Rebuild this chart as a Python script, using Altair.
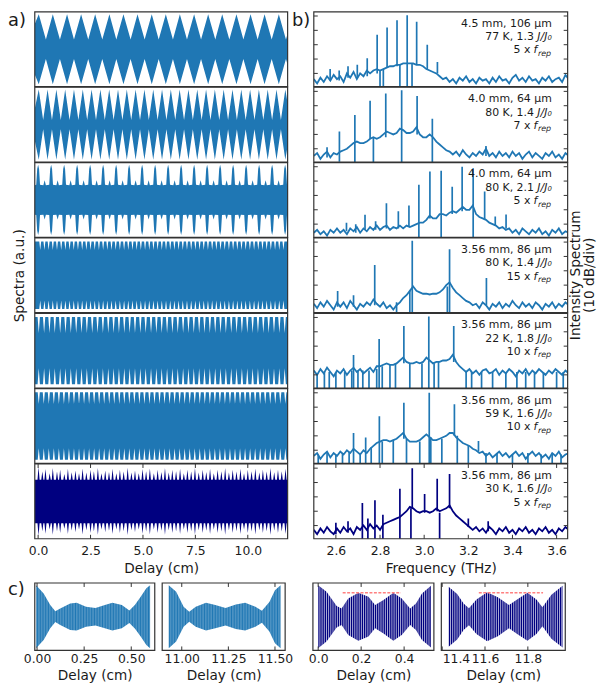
import altair as alt
import pandas as pd

FONT = "DejaVu Sans"
LIGHT = "#1f77b4"
DARK = "#000080"
FRAME = "#333333"
INK = "#1a1a1a"
RED = "#ff8080"

# ======================= a) interferogram envelopes =======================
a_domain = [-0.16, 11.9]
a_ticks = [0.0, 2.5, 5.0, 7.5, 10.0]
a_amp_domain = [-1.065, 1.065]

a1_peak_x = [0.03, 0.70, 1.38, 2.05, 2.72, 3.40, 4.07, 4.74, 5.42, 6.09, 6.76, 7.44,
             8.11, 8.78, 9.46, 10.13, 10.80, 11.48]
a1_notch_x = [0.37, 1.04, 1.71, 2.39, 3.06, 3.73, 4.41, 5.08, 5.75, 6.43, 7.10, 7.77,
              8.45, 9.12, 9.79, 10.47, 11.14, 11.82]
a1_levels = (1.0, 0.28)
a1_ends = [(-0.16, 0.72), (11.9, 0.45)]

a2_peak_x = [0.03, 0.45, 0.87, 1.29, 1.71, 2.13, 2.55, 2.97, 3.39, 3.81, 4.23, 4.65,
             5.07, 5.49, 5.91, 6.33, 6.75, 7.17, 7.59, 8.01, 8.43, 8.85, 9.27, 9.69,
             10.11, 10.53, 10.95, 11.37, 11.79]
a2_notch_x = [0.24, 0.66, 1.08, 1.50, 1.92, 2.34, 2.76, 3.18, 3.60, 4.02, 4.44, 4.86,
              5.28, 5.70, 6.12, 6.54, 6.96, 7.38, 7.80, 8.22, 8.64, 9.06, 9.48, 9.90,
              10.32, 10.74, 11.16, 11.58]
a2_levels = (1.0, 0.13)
a2_ends = [(-0.16, 0.45), (11.9, 0.6)]

a3_spike_x = [0.00, 0.62, 1.24, 1.86, 2.48, 3.10, 3.72, 4.34, 4.96, 5.58, 6.20, 6.82,
              7.44, 8.06, 8.68, 9.30, 9.92, 10.54, 11.16, 11.78]
a3_bump_x = [0.31, 0.93, 1.55, 2.17, 2.79, 3.41, 4.03, 4.65, 5.27, 5.89, 6.51, 7.13,
             7.75, 8.37, 8.99, 9.61, 10.23, 10.85, 11.47]
a3_spike_shape = [(-0.09, 0.43), (-0.045, 0.88), (0.0, 1.0), (0.045, 0.88), (0.09, 0.43)]
a3_bump_shape = [(-0.06, 0.42), (0.0, 0.56), (0.06, 0.42)]
a3_ends = [(-0.16, 0.42), (11.9, 0.42)]

a4_notch_x = [0.10, 0.30, 0.50, 0.70, 0.90, 1.10, 1.30, 1.50, 1.70, 1.90, 2.10, 2.30,
              2.50, 2.70, 2.90, 3.10, 3.30, 3.50, 3.70, 3.90, 4.10, 4.30, 4.50, 4.70,
              4.90, 5.10, 5.30, 5.50, 5.70, 5.90, 6.10, 6.30, 6.50, 6.70, 6.90, 7.10,
              7.30, 7.50, 7.70, 7.90, 8.10, 8.30, 8.50, 8.70, 8.90, 9.10, 9.30, 9.50,
              9.70, 9.90, 10.10, 10.30, 10.50, 10.70, 10.90, 11.10, 11.30, 11.50, 11.70]
a4_notch_shape = [(-0.045, 0.96), (0.0, 0.72), (0.045, 0.96)]
a4_ends = [(-0.16, 0.96), (11.9, 0.96)]

a5_notch_x = [0.03, 0.285, 0.54, 0.795, 1.05, 1.305, 1.56, 1.815, 2.07, 2.325, 2.58,
              2.835, 3.09, 3.345, 3.60, 3.855, 4.11, 4.365, 4.62, 4.875, 5.13, 5.385,
              5.64, 5.895, 6.15, 6.405, 6.66, 6.915, 7.17, 7.425, 7.68, 7.935, 8.19,
              8.445, 8.70, 8.955, 9.21, 9.465, 9.72, 9.975, 10.23, 10.485, 10.74,
              10.995, 11.25, 11.505, 11.76]
a5_notch_shape = [(-0.055, 0.96), (0.0, 0.50), (0.055, 0.96)]
a5_ends = [(-0.16, 0.96), (11.9, 0.96)]

a6_notch_x = [0.03, 0.27, 0.51, 0.75, 0.99, 1.23, 1.47, 1.71, 1.95, 2.19, 2.43, 2.67,
              2.91, 3.15, 3.39, 3.63, 3.87, 4.11, 4.35, 4.59, 4.83, 5.07, 5.31, 5.55,
              5.79, 6.03, 6.27, 6.51, 6.75, 6.99, 7.23, 7.47, 7.71, 7.95, 8.19, 8.43,
              8.67, 8.91, 9.15, 9.39, 9.63, 9.87, 10.11, 10.35, 10.59, 10.83, 11.07,
              11.31, 11.55, 11.79]
a6_notch_shape = [(-0.05, 0.96), (0.0, 0.63), (0.05, 0.96)]
a6_ends = [(-0.16, 0.96), (11.9, 0.96)]

a7_spike_x = [0.02, 0.20, 0.35, 0.55, 0.70, 0.90, 1.05, 1.25, 1.42, 1.60, 1.78, 1.95,
              2.12, 2.30, 2.50, 2.66, 2.85, 3.02, 3.20, 3.38, 3.55, 3.73, 3.90, 4.08,
              4.27, 4.45, 4.62, 4.80, 4.98, 5.15, 5.33, 5.52, 5.70, 5.88, 6.05, 6.23,
              6.40, 6.58, 6.77, 6.95, 7.12, 7.30, 7.48, 7.66, 7.85, 8.02, 8.20, 8.38,
              8.56, 8.74, 8.92, 9.10, 9.28, 9.46, 9.65, 9.82, 10.00, 10.18, 10.36,
              10.55, 10.72, 10.90, 11.08, 11.26, 11.44, 11.62, 11.80]
a7_spike_amp = [0.98, 0.85, 0.92, 0.80, 0.95, 0.85, 0.90, 0.78, 0.93, 0.83, 0.88, 0.80,
                0.94, 0.82, 0.90, 0.86, 0.95, 0.80, 0.88, 0.84, 0.93, 0.80, 0.90, 0.85,
                0.96, 0.82, 0.88, 0.80, 0.92, 0.86, 0.94, 0.80, 0.90, 0.84, 0.95, 0.82,
                0.90, 0.86, 0.93, 0.80, 0.90, 0.85, 0.95, 0.82, 0.90, 0.84, 0.93, 0.80,
                0.90, 0.86, 0.95, 0.82, 0.90, 0.85, 0.93, 0.80, 0.90, 0.86, 0.94, 0.82,
                0.90, 0.85, 0.95, 0.83, 0.90, 0.86, 0.93]
a7_base = 0.62
a7_ends = [(-0.16, 0.62), (11.9, 0.62)]

# ======================= b) spectra (dB) =======================
b_domain = [2.5, 3.65]
b_ticks = [2.6, 2.8, 3.0, 3.2, 3.4, 3.6]
b_db_domain = [-9.2, 42.9]
b_db_ticks = [0, 10, 20, 30, 40]

grid_f = [2.500, 2.515, 2.530, 2.545, 2.560, 2.575, 2.590, 2.605, 2.620, 2.635, 2.650,
          2.665, 2.680, 2.695, 2.710, 2.725, 2.740, 2.755, 2.770, 2.785, 2.800, 2.815,
          2.830, 2.845, 2.860, 2.875, 2.890, 2.905, 2.920, 2.935, 2.950, 2.965, 2.980,
          2.995, 3.010, 3.025, 3.040, 3.055, 3.070, 3.085, 3.100, 3.115, 3.130, 3.145,
          3.160, 3.175, 3.190, 3.205, 3.220, 3.235, 3.250, 3.265, 3.280, 3.295, 3.310,
          3.325, 3.340, 3.355, 3.370, 3.385, 3.400, 3.415, 3.430, 3.445, 3.460, 3.475,
          3.490, 3.505, 3.520, 3.535, 3.550, 3.565, 3.580, 3.595, 3.610, 3.625, 3.640,
          3.655]

b1_db = [-4, -7, -3, -6, -2, -5, -1, -4, -2, -6, 0, -3, 1, -4, 0, -2, 2, 0, 2, 3,
         2, 3, 4, 5, 5, 6, 6, 7, 7, 7, 7, 6, 6, 5, 3, 2, 1, 0, -2, -4,
         -3, -6, -4, -7, -3, -5, -2, -6, -4, -7, -3, -5, -4, -7, -3, -6, -2, -5, -4, -7,
         -3, -1, -5, -3, -6, -2, -5, -4, -7, -3, -5, -2, -6, -4, -3, -6, -1, -4]
b1_spikes = [(2.574, 3, -5), (2.615, 2, -5), (2.655, 5, -3), (2.697, 6, -3),
             (2.742, 10.5, -2), (2.787, 27, 0), (2.800, 2, -12), (2.815, 3, -12),
             (2.832, 32, 4), (2.877, 37, 5), (2.890, 6, -12), (2.923, 40.5, -12),
             (2.945, 7, -12), (2.966, 36, 6), (3.014, 20, 3), (3.060, 8, 0)]

b2_db = [-5, -3, -7, -4, -2, -6, -3, -4, -2, -1, 0, 2, 4, 5, 4, 4, 5, 7, 8, 7,
         8, 10, 12, 11, 10, 11, 14, 13, 11, 11, 12, 15, 10, 8, 8, 10, 8, 5, 3, 1,
         -1, -2, -4, -2, -5, -1, -4, -6, -3, -5, -2, -4, 0, -5, -3, -6, -2, -5, -3, -6,
         -2, -5, -3, -7, -4, -2, -6, -3, -5, -7, -3, -5, -2, -6, -4, -7, -3, -5]
b2_spikes = [(2.560, 1, -6), (2.616, 12, -9), (2.686, 23.5, -12), (2.755, 33.5, 7),
             (2.770, 8, -12), (2.826, 38.5, 8), (2.898, 40.7, -12), (2.968, 36.8, 10),
             (3.037, 21, -12), (3.280, 2, -5)]

b3_db = [-6, -4, -7, -5, -8, -4, -6, -3, -6, -4, -7, -3, -5, -2, -6, -3, -5, -2, -4, -1,
         -4, -2, -1, -4, -2, -3, -1, -3, -1, -2, -1, 0, 1, 1, 3, 6, 4, 4, 7, 7,
         6, 8, 9, 8, 10, 12, 10, 10, 13, 7, 5, 4, 3, 1, 0, -1, -3, -2, -4, -3,
         -6, -4, -7, -3, -5, -7, -4, -6, -3, -7, -5, -8, -4, -6, -3, -7, -5, -6]
b3_spikes = [(2.648, 1, -5), (2.690, 0, -6), (2.732, 6.5, -4), (2.780, 2, -4),
             (2.829, 14.6, -3), (2.883, 9, -3), (2.931, 13, -2), (2.976, 27.5, -12),
             (3.026, 36.6, 4), (3.077, 37.2, -12), (3.127, 26, 7), (3.172, 40, 9),
             (3.222, 39, -12), (3.274, 22.7, 3), (3.322, 5.3, -1), (3.371, 6.7, -3)]

b4_db = [-3, -6, -2, -5, -1, -4, -7, -2, -5, -2, -6, -1, -4, -7, -3, -5, -2, -4, 0, -3,
         -5, -2, -6, -4, -7, -4, -2, 1, 3, 6, 9, 6, 5, 4, 4, 3.5, 4, 4, 5, 7,
         10, 12, 8, 5, 3, 1, -1, -2, -4, -3, -6, -2, -4, -7, -3, -5, -2, -6, -3, -5,
         -1, -4, -6, -2, -5, -3, -6, -2, -4, -7, -3, -5, -2, -6, -3, -5, -2, -4]
b4_spikes = [(2.608, 6, -5), (2.680, 3, -5), (2.776, 24, -4), (2.875, -2, -12),
             (2.935, 6, -12), (2.946, 41, -12), (3.105, 9, -12), (3.115, 35, -12),
             (3.282, 15, -4)]

b5_db = [3, 0, 4, 1, 5, 2, -1, 3, 1, 4, 0, 3, 5, 2, 4, 1, 3, 5, 2, 6,
         6, 7, 8, 7, 7, 8, 10, 12, 9, 8, 8, 9, 8, 9, 12, 10, 8, 9, 9, 10,
         10, 11, 14, 9, 6, 4, 2, 4, 1, 3, 0, 3, 4, 1, 2, 4, 0, 3, 1, 4,
         2, -1, 3, 1, 4, 0, 3, 1, 4, 2, 0, 3, 1, 4, 2, 0, 3, 1]
b5_spikes = [(2.680, 13.8, -12), (2.796, 25, -12), (2.908, 34, 8), (3.021, 40.6, -12),
             (3.134, 34, 9),
             (2.515, 1, -12), (2.548, 2, -12), (2.570, 2, -12), (2.600, 2, -12),
             (2.640, 2, -12), (2.672, 3, -12), (2.700, 3, -12), (2.722, 3, -12),
             (2.750, 3, -12), (2.785, 4, -12), (2.810, 6, -12), (2.845, 7, -12),
             (2.870, 8, -12), (2.935, 8, -12), (2.990, 8, -12), (3.045, 8, -12),
             (3.065, 9, -12), (3.190, 2, -12), (3.215, 2, -12), (3.260, 2, -12),
             (3.310, 2, -12), (3.370, 2, -12), (3.420, 2, -12), (3.460, 2, -12),
             (3.500, 2, -12), (3.540, 2, -12), (3.600, 2, -12), (3.630, 2, -12)]

b6_db = [-4, -2, -6, -3, -1, -5, -2, -4, -1, -3, 0, -2, 1, -1, -3, 0, -2, 1, 3, 5,
         6, 7, 7, 6, 7, 8, 10, 12, 8, 6, 6, 6, 7, 9, 11, 9, 7, 7, 8, 9,
         10, 12, 12, 9, 7, 5, 4, 3, 1, 0, -2, -1, -4, -2, -5, -3, -1, -4, -2, -5,
         -3, -1, -4, -2, -6, -3, -1, -4, -2, -5, -3, -6, -2, -4, -1, -5, -3, -2]
b6_spikes = [(2.680, 12, -12), (2.735, 8.8, -12), (2.797, 23.7, -12), (2.908, 33, 8),
             (3.023, 40, -12), (3.137, 32, 10), (3.246, 6.5, -1),
             (2.520, -3, -12), (2.560, -2, -12), (2.600, -3, -12), (2.630, -2, -12),
             (2.660, -1, -12), (2.710, -2, -12), (2.760, 2, -12), (2.810, 6, -12),
             (2.860, 7, -12), (2.920, 8, -12), (2.980, 6, -12), (3.030, 9, -12),
             (3.080, 8, -12), (3.150, 10, -12), (3.200, 3, -12), (3.280, -2, -12),
             (3.330, -2, -12), (3.400, -3, -12), (3.470, -2, -12), (3.530, -3, -12),
             (3.580, -2, -12), (3.620, -3, -12)]

b7_db = [-3, -6, -2, -5, -1, -4, -6, -2, -5, -1, -4, -2, -6, -1, -3, 0, -3, 1, -2, 0,
         -3, 1, 2, 3, 4, 5, 6, 8, 10, 13, 12, 10, 9, 10, 10, 9, 10, 12, 10, 11,
         12, 14, 10, 7, 5, 3, 1, -1, -3, -1, -4, -2, -5, -1, -3, -6, -2, -4, -1, -5,
         -3, -6, -2, -4, -1, -5, -3, -6, -2, -4, -1, -5, -3, -6, -2, -4, -1, -3]
b7_spikes = [(2.600, 2, -6), (2.655, 3, -5), (2.720, 15.8, -12), (2.745, 5, -12),
             (2.777, 17.6, -12), (2.813, 7.6, -12), (2.890, 25.7, -12), (2.940, 12, -12),
             (2.946, 40, 12), (3.002, 22, 9), (3.059, 32.6, 10), (3.070, 9, -12),
             (3.115, 36, 12), (3.200, 5, -1), (3.290, 3, -4)]

b_line1 = ["4.5 mm, 106 \u03bcm", "4.0 mm, 64 \u03bcm", "4.0 mm, 64 \u03bcm",
           "3.56 mm, 86 \u03bcm", "3.56 mm, 86 \u03bcm", "3.56 mm, 86 \u03bcm",
           "3.56 mm, 86 \u03bcm"]
b_line2 = ["77 K, 1.3", "80 K, 1.4", "80 K, 2.1", "80 K, 1.4", "22 K, 1.8",
           "59 K, 1.6", "30 K, 1.6"]
b_mult = ["5 x", "7 x", "5 x", "15 x", "10 x", "10 x", "5 x"]
b_side_title = ["Intensity Spectrum", "(10 dB/div)"]

# ======================= c) zoomed interferograms =======================
c1_x = [-0.005, 0.035, 0.07, 0.097, 0.123, 0.176, 0.21, 0.26, 0.31, 0.36, 0.40, 0.45,
        0.49, 0.52, 0.55, 0.58, 0.60]
c1_amp = [1.0, 0.74, 0.37, 0.17, 0.26, 0.42, 0.44, 0.32, 0.28, 0.37, 0.44, 0.37,
          0.20, 0.38, 0.63, 0.90, 1.0]
c2_x = [10.93, 10.97, 11.01, 11.04, 11.075, 11.13, 11.18, 11.235, 11.29, 11.34,
        11.395, 11.43, 11.47, 11.50, 11.53]
c2_amp = [1.0, 0.79, 0.32, 0.16, 0.32, 0.44, 0.37, 0.28, 0.39, 0.44, 0.32, 0.19,
          0.47, 0.84, 1.0]
c3_x = [0.0, 0.039, 0.086, 0.109, 0.14, 0.187, 0.234, 0.265, 0.304, 0.35, 0.389, 0.428,
        0.455, 0.483, 0.525]
c3_amp = [1.0, 0.79, 0.34, 0.26, 0.58, 0.76, 0.63, 0.37, 0.53, 0.76, 0.58, 0.26,
          0.42, 0.74, 0.98]
c4_x = [11.43, 11.47, 11.50, 11.525, 11.56, 11.61, 11.66, 11.712, 11.75, 11.798,
        11.84, 11.868, 11.91, 11.962]
c4_amp = [0.95, 0.72, 0.42, 0.27, 0.55, 0.78, 0.62, 0.37, 0.55, 0.76, 0.55, 0.30,
          0.70, 0.98]
c3_red = (0.114, 0.385, 0.76)
c4_red = (11.571, 11.871, 0.76)
c1_ticks, c2_ticks = [0.0, 0.25, 0.5], [11.0, 11.25, 11.5]
c3_ticks, c4_ticks = [0.0, 0.2, 0.4], [11.4, 11.6, 11.8]

# ======================= layout sizes =======================
A_W, A_H = 255, 75.4
B_W, B_H = 256, 75.4
C_H = 68
TAG_SIZE = 18
TAG_X = -27
ONE = pd.DataFrame({"k": [0]})


def env_frame(points):
    pts = sorted(points)
    return pd.DataFrame({"x": [p[0] for p in pts],
                         "hi": [p[1] for p in pts],
                         "lo": [-p[1] for p in pts]})


def zigzag(peaks, notches, levels, ends):
    hi, lo = levels
    return env_frame([(x, hi) for x in peaks] + [(x, lo) for x in notches] + list(ends))


def shaped(centers, shape):
    pts = []
    for c in centers:
        pts += [(c + dx, a) for dx, a in shape]
    return pts


def spiky(centers, heights, base, half, ends):
    pts = list(ends)
    for c, h in zip(centers, heights):
        pts += [(c - half, base), (c, h), (c + half, base)]
    return env_frame(pts)


def frame_layer(w, h):
    return alt.Chart(ONE).mark_rect(filled=False, color=FRAME, strokeWidth=1.2).encode(
        x=alt.value(0), x2=alt.value(w), y=alt.value(0), y2=alt.value(h))


def xtick_layers(values, scale, h, ax):
    df = pd.DataFrame({"t": values})
    top = alt.Chart(df).mark_rule(color=FRAME, strokeWidth=1).encode(
        x=alt.X("t:Q", scale=scale, axis=ax), y=alt.value(0), y2=alt.value(4))
    bot = alt.Chart(df).mark_rule(color=FRAME, strokeWidth=1).encode(
        x=alt.X("t:Q", scale=scale, axis=ax), y=alt.value(h - 4), y2=alt.value(h))
    return [top, bot]


def ytick_layers(values, scale, w, ax):
    df = pd.DataFrame({"t": values})
    left = alt.Chart(df).mark_rule(color=FRAME, strokeWidth=1).encode(
        y=alt.Y("t:Q", scale=scale, axis=ax), x=alt.value(0), x2=alt.value(4))
    right = alt.Chart(df).mark_rule(color=FRAME, strokeWidth=1).encode(
        y=alt.Y("t:Q", scale=scale, axis=ax), x=alt.value(w - 4), x2=alt.value(w))
    return [left, right]


def txt(s, x, y, size=11, align="right", italic=False, angle=0, baseline="alphabetic"):
    kw = dict(text=s, fontSize=size, font=FONT, align=align, baseline=baseline, color=INK)
    if italic:
        kw["fontStyle"] = "italic"
    if angle:
        kw["angle"] = angle
    return alt.Chart(ONE).mark_text(**kw).encode(x=alt.value(x), y=alt.value(y))


def tag(s, x, y):
    return alt.Chart(ONE).mark_text(text=s, fontSize=TAG_SIZE, font=FONT, align="left",
                                    baseline="alphabetic", color=INK).encode(
        x=alt.value(x), y=alt.value(y))


def a_panel(df, color, bottom=False, ytitle=False, label=False):
    xs = alt.Scale(domain=a_domain, nice=False, zero=False)
    ys = alt.Scale(domain=a_amp_domain, nice=False, zero=False)
    if bottom:
        xax = alt.Axis(values=a_ticks, format=".1f", title="Delay (cm)", ticks=False,
                       domain=False, labelPadding=6, titlePadding=5)
    else:
        xax = None
    if ytitle:
        yax = alt.Axis(title="Spectra (a.u.)", labels=False, ticks=False, domain=False,
                       titlePadding=8)
    else:
        yax = None
    area = alt.Chart(df).mark_area(color=color, clip=True).encode(
        x=alt.X("x:Q", scale=xs, axis=xax),
        y=alt.Y("hi:Q", scale=ys, axis=yax), y2="lo:Q")
    layers = [area]
    if bottom:
        layers += xtick_layers(a_ticks, xs, A_H, xax)
    layers.append(frame_layer(A_W, A_H))
    if label:
        layers.append(tag("a)", TAG_X, 14))
    return alt.layer(*layers).properties(width=A_W, height=A_H)


def b_panel(i, db, spikes, color, bottom=False, side_title=False, label=False):
    xs = alt.Scale(domain=b_domain, nice=False, zero=False)
    ys = alt.Scale(domain=b_db_domain, nice=False, zero=False)
    if bottom:
        xax = alt.Axis(values=b_ticks, format=".1f", title="Frequency (THz)", ticks=False,
                       domain=False, labelPadding=6, titlePadding=5)
    else:
        xax = None
    line = alt.Chart(pd.DataFrame({"f": grid_f, "db": db})).mark_line(
        color=color, strokeWidth=1.8, clip=True).encode(
        x=alt.X("f:Q", scale=xs, axis=xax), y=alt.Y("db:Q", scale=ys, axis=None))
    sp = alt.Chart(pd.DataFrame(spikes, columns=["f", "top", "base"])).mark_rule(
        color=color, strokeWidth=1.7, clip=True).encode(
        x=alt.X("f:Q", scale=xs, axis=xax), y=alt.Y("top:Q", scale=ys, axis=None),
        y2="base:Q")
    layers = [line, sp] + ytick_layers(b_db_ticks, ys, B_W, None)
    if bottom:
        layers += xtick_layers(b_ticks, xs, B_H, xax)
    layers += [
        txt(b_line1[i], 240, 15),
        txt(b_line2[i], 222, 28.7),
        txt("J/J\u2080", 240, 28.7, italic=True),
        txt(b_mult[i], 218.5, 42),
        txt("f", 221.5, 42, align="left", italic=True),
        txt("rep", 226, 44.5, size=8, align="left", italic=True),
    ]
    if side_title:
        layers += [
            txt(b_side_title[0], B_W + 1.5, B_H / 2, size=13.75, align="center",
                angle=270, baseline="top"),
            txt(b_side_title[1], B_W + 15.5, B_H / 2, size=13.75, align="center",
                angle=270, baseline="top"),
        ]
    layers.append(frame_layer(B_W, B_H))
    if label:
        layers.append(tag("b)", -22, 14))
    return alt.layer(*layers).properties(width=B_W, height=B_H)


def c_panel(xv, amp, domain, ticks, fmt, color, w, dash, dash_op, red=None, label=False):
    xs = alt.Scale(domain=domain, nice=False, zero=False)
    ys = alt.Scale(domain=[-1.07, 1.07], nice=False, zero=False)
    xax = alt.Axis(values=ticks, format=fmt, title="Delay (cm)", ticks=False, domain=False,
                   labelPadding=2, titlePadding=4)
    df = pd.DataFrame({"x": xv, "hi": amp, "lo": [-a for a in amp]})
    area = alt.Chart(df).mark_area(color=color, clip=True).encode(
        x=alt.X("x:Q", scale=xs, axis=xax),
        y=alt.Y("hi:Q", scale=ys, axis=None), y2="lo:Q")
    stripes = alt.Chart(ONE).mark_rule(color="white", strokeWidth=C_H, strokeDash=dash,
                                       opacity=dash_op, clip=True).encode(
        x=alt.value(0), x2=alt.value(w), y=alt.value(C_H / 2))
    layers = [area, stripes]
    if red:
        rdf = pd.DataFrame({"x0": [red[0]], "x1": [red[1]], "y": [red[2]]})
        layers.append(alt.Chart(rdf).mark_rule(color=RED, strokeWidth=1.5,
                                               strokeDash=[3, 1.5]).encode(
            x=alt.X("x0:Q", scale=xs, axis=xax), x2="x1:Q",
            y=alt.Y("y:Q", scale=ys, axis=None)))
    layers += xtick_layers(ticks, xs, C_H, xax)
    layers.append(frame_layer(w, C_H))
    if label:
        layers.append(tag("c)", TAG_X, 12))
    return alt.layer(*layers).properties(width=w, height=C_H)


def spacer(w):
    return alt.Chart(ONE).mark_point(opacity=0, size=1).encode(
        x=alt.value(w / 2), y=alt.value(C_H / 2)).properties(width=w, height=C_H)


# ---- build envelopes ----
a1 = zigzag(a1_peak_x, a1_notch_x, a1_levels, a1_ends)
a2 = zigzag(a2_peak_x, a2_notch_x, a2_levels, a2_ends)
a3 = env_frame(shaped(a3_spike_x, a3_spike_shape) + shaped(a3_bump_x, a3_bump_shape) + a3_ends)
a4 = env_frame(shaped(a4_notch_x, a4_notch_shape) + a4_ends)
a5 = env_frame(shaped(a5_notch_x, a5_notch_shape) + a5_ends)
a6 = env_frame(shaped(a6_notch_x, a6_notch_shape) + a6_ends)
a7 = spiky(a7_spike_x, a7_spike_amp, a7_base, 0.05, a7_ends)

colA = alt.vconcat(
    a_panel(a1, LIGHT, label=True),
    a_panel(a2, LIGHT),
    a_panel(a3, LIGHT),
    a_panel(a4, LIGHT, ytitle=True),
    a_panel(a5, LIGHT),
    a_panel(a6, LIGHT),
    a_panel(a7, DARK, bottom=True),
    spacing=0, bounds="flush")

colB = alt.vconcat(
    b_panel(0, b1_db, b1_spikes, LIGHT, label=True),
    b_panel(1, b2_db, b2_spikes, LIGHT),
    b_panel(2, b3_db, b3_spikes, LIGHT),
    b_panel(3, b4_db, b4_spikes, LIGHT, side_title=True),
    b_panel(4, b5_db, b5_spikes, LIGHT),
    b_panel(5, b6_db, b6_spikes, LIGHT),
    b_panel(6, b7_db, b7_spikes, DARK, bottom=True),
    spacing=0, bounds="flush")

top = alt.hconcat(colA, colB, spacing=3.4)

c1 = c_panel(c1_x, c1_amp, [-0.0121, 0.6247], c1_ticks, ".2f", LIGHT, 121, [0.6, 1.0], 0.35,
             label=True)
c2 = c_panel(c2_x, c2_amp, [10.895, 11.5546], c2_ticks, ".2f", LIGHT, 124, [0.6, 1.0], 0.35)
c3 = c_panel(c3_x, c3_amp, [-0.0245, 0.5385], c3_ticks, ".1f", DARK, 122, [0.9, 1.3], 0.75,
             red=c3_red)
c4 = c_panel(c4_x, c4_amp, [11.396, 11.9747], c4_ticks, ".1f", DARK, 125, [0.9, 1.3], 0.75,
             red=c4_red)

bottom = alt.hconcat(c1, c2, spacer(13), c3, c4, spacing=7.5, bounds="flush")

chart = alt.vconcat(top, bottom, spacing=5).properties(
    padding=0, background="white"
).configure_view(strokeWidth=0).configure_axis(
    labelFont=FONT, titleFont=FONT, labelFontSize=12.5, titleFontSize=13.75,
    labelColor=INK, titleColor=INK, titleFontWeight="normal", grid=False)

chart.save("out.html", embed_options={"renderer": "svg", "actions": False})
